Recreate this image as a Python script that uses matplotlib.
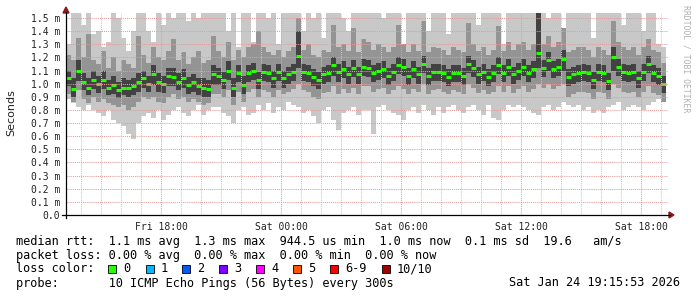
import numpy as np
import matplotlib
matplotlib.use('Agg')
import matplotlib.pyplot as plt
from matplotlib.patches import Rectangle, Polygon
from matplotlib.lines import Line2D

W, H = 697, 297

# smokeping round-trip data, 15 min steps from Fri 13:15, values in 0.01 ms
median = [104, 96, 110, 101, 97, 103, 100, 103, 97, 99, 95, 97, 97, 98, 101, 104, 100, 107, 101, 100,
          106, 105, 101, 104, 99, 101, 98, 97, 96, 107,
          106, 103, 110, 97, 108, 99, 108, 110, 103, 109, 108, 104, 109, 104, 107, 109, 121, 109, 108, 105,
          103, 107, 108, 114, 109, 111, 107, 112, 107, 113,
          112, 108, 110, 111, 106, 109, 114, 113, 106, 111, 107, 115, 106, 109, 109, 108, 105, 108, 108, 106,
          115, 112, 107, 109, 105, 108, 114, 108, 113, 107,
          110, 113, 108, 111, 123, 112, 118, 111, 113, 119, 105, 107, 108, 109, 108, 103, 109, 108, 102, 120,
          113, 109, 108, 109, 104, 109, 115, 108, 106, 100]
ping_max = [130, 154, 154, 145, 154, 138, 140, 128, 132, 154, 150, 135, 125, 140, 154, 154, 140, 132, 154, 145,
            154, 150, 154, 154, 148, 154, 150, 154, 154, 154,
            154, 154, 140, 154, 128, 154, 154, 132, 154, 154, 150, 154, 130, 154, 154, 154, 154, 140, 154, 150,
            154, 135, 154, 154, 154, 150, 140, 154, 154, 154,
            154, 154, 154, 150, 154, 154, 154, 130, 154, 154, 154, 154, 140, 154, 154, 154, 138, 154, 154, 154,
            154, 154, 145, 154, 154, 154, 154, 130, 154, 154,
            154, 154, 154, 154, 154, 154, 150, 154, 154, 140, 154, 154, 154, 154, 154, 135, 154, 154, 154, 154,
            154, 145, 154, 154, 154, 140, 154, 154, 130, 128]
ping_min = [88, 85, 82, 80, 84, 80, 78, 75, 80, 72, 70, 68, 62, 58, 70, 75, 78, 74, 80, 72,
            76, 80, 82, 78, 75, 80, 84, 76, 80, 82,
            82, 78, 75, 70, 80, 82, 76, 78, 84, 80, 85, 78, 82, 80, 86, 84, 82, 78, 80, 75,
            70, 80, 82, 72, 65, 78, 80, 82, 76, 80,
            80, 62, 82, 84, 80, 78, 76, 72, 80, 82, 78, 84, 80, 76, 82, 78, 82, 84, 80, 78,
            82, 84, 80, 76, 84, 74, 72, 80, 84, 82,
            84, 82, 80, 78, 76, 82, 84, 80, 82, 86, 84, 82, 84, 80, 82, 78, 80, 78, 82, 84,
            86, 80, 82, 84, 82, 80, 84, 86, 88, 90]
mid_hi = [122, 118, 135, 120, 138, 118, 115, 125, 112, 120, 110, 118, 115, 112, 136, 122, 116, 128, 120, 118,
          125, 134, 118, 124, 115, 120, 125, 116, 118, 136,
          125, 120, 132, 118, 126, 120, 128, 130, 140, 128, 124, 122, 126, 120, 125, 128, 150, 126, 130, 122,
          120, 126, 124, 145, 128, 130, 125, 142, 124, 134,
          132, 126, 130, 128, 124, 128, 145, 130, 124, 130, 125, 148, 124, 128, 127, 126, 122, 128, 126, 124,
          146, 130, 125, 128, 122, 126, 144, 125, 132, 126,
          130, 132, 126, 130, 154, 130, 136, 128, 132, 142, 124, 126, 128, 128, 126, 120, 128, 126, 122, 148,
          132, 128, 126, 128, 122, 128, 134, 126, 124, 116]
mid_lo = [92, 86, 95, 88, 85, 90, 86, 88, 85, 84, 82, 84, 80, 82, 86, 90, 88, 90, 86, 85,
          90, 92, 88, 90, 86, 88, 86, 84, 85, 92,
          92, 90, 95, 84, 94, 86, 94, 96, 90, 95, 94, 90, 95, 92, 94, 96, 100, 95, 94, 90,
          88, 93, 94, 98, 92, 96, 93, 97, 92, 98,
          98, 94, 96, 97, 92, 95, 98, 96, 92, 96, 94, 100, 92, 95, 96, 94, 92, 95, 94, 92,
          100, 97, 93, 95, 92, 94, 98, 94, 98, 93,
          96, 98, 94, 96, 100, 97, 100, 96, 98, 100, 90, 92, 94, 94, 93, 88, 94, 93, 88, 100,
          97, 94, 93, 94, 90, 94, 98, 93, 91, 86]
core_hi = [110, 104, 118, 108, 104, 110, 106, 110, 103, 106, 101, 104, 103, 104, 108, 110, 106, 114, 108, 106,
           112, 112, 108, 111, 105, 107, 104, 104, 103, 114,
           112, 109, 117, 104, 114, 106, 114, 116, 109, 115, 114, 110, 115, 110, 113, 115, 140, 115, 114, 111,
           109, 113, 114, 120, 115, 117, 113, 118, 113, 119,
           118, 114, 116, 117, 112, 115, 120, 119, 112, 117, 113, 121, 112, 115, 115, 114, 111, 114, 114, 112,
           121, 118, 113, 115, 111, 114, 120, 114, 119, 113,
           116, 119, 114, 117, 154, 118, 124, 117, 119, 126, 111, 113, 114, 115, 114, 109, 115, 114, 108, 128,
           119, 115, 114, 115, 110, 115, 121, 114, 112, 106]
core_lo = [98, 90, 102, 95, 91, 96, 93, 96, 91, 92, 89, 91, 90, 91, 94, 97, 94, 99, 94, 93,
           98, 98, 95, 97, 92, 94, 91, 90, 90, 99,
           99, 96, 103, 90, 101, 92, 101, 103, 96, 102, 101, 97, 102, 97, 100, 102, 112, 102, 101, 98,
           96, 100, 101, 106, 101, 104, 100, 105, 100, 106,
           105, 101, 103, 104, 99, 102, 107, 106, 99, 104, 100, 108, 99, 102, 102, 101, 98, 101, 101, 99,
           108, 105, 100, 102, 98, 101, 107, 101, 106, 100,
           103, 106, 101, 104, 112, 105, 110, 104, 106, 110, 98, 100, 101, 102, 101, 96, 102, 101, 95, 110,
           106, 102, 101, 102, 97, 102, 108, 101, 99, 93]

tick_hours = [18, 24, 30, 36, 42]
tick_labels = ['Fri 18:00', 'Sat 00:00', 'Sat 06:00', 'Sat 12:00', 'Sat 18:00']
loss_labels = ['0', '1', '2', '3', '4', '5', '6-9', '10/10']
loss_colors = ['#26ff00', '#00b8ff', '#0059ff', '#7e00ff', '#ff00ff', '#ff5500', '#ff0000', '#a10000']

step = 0.25
t = 13.25 + step * np.arange(len(median))


def ms(a):
    return np.array(a) / 100.0


def fx(x):
    return x / W


def fy(y):
    return 1 - y / H


fig = plt.figure(figsize=(W / 100, H / 100), dpi=100)
fig.patch.set_facecolor('white')
ax = fig.add_axes([fx(66), fy(215), 602 / W, 202 / H])
ax.set_facecolor('white')

# smoke bands, outer to inner
for lo, hi, col in [(ping_min, ping_max, '#c8c8c8'),
                    (mid_lo, mid_hi, '#949494'),
                    (core_lo, core_hi, '#424242')]:
    ax.bar(t, ms(hi) - ms(lo), bottom=ms(lo), width=step, align='edge',
           color=col, linewidth=0, zorder=2)

ax.hlines(ms(median), t, t + step, colors='#26ff00', linewidth=2.2, zorder=4)

ax.set_xlim(13.25, 43.35)
ax.set_ylim(0, 1.538)

# grid on top of the smoke, rrdtool style
dots = (0, (1, 1))
for h in range(14, 44):
    if h not in tick_hours:
        ax.axvline(h, color='#c8c8c8', lw=0.75, ls=dots, zorder=5)
for h in tick_hours:
    ax.axvline(h, color='#e89a9a', lw=0.75, ls=dots, zorder=5)
for v in np.arange(0.1, 1.55, 0.1):
    ax.axhline(v, color='#e89a9a', lw=0.75, ls=dots, zorder=5)

for s in ax.spines.values():
    s.set_visible(False)

ax.set_xticks(tick_hours)
ax.set_xticklabels(tick_labels)
yt = np.round(np.arange(0, 1.51, 0.1), 1)
ax.set_yticks(yt)
ax.set_yticklabels(['0.0'] + ['%.1f m' % v for v in yt[1:]])
ax.tick_params(length=0, labelsize=7, labelcolor='#222222')
ax.tick_params(axis='x', pad=5)
ax.tick_params(axis='y', pad=4)
for lab in ax.get_xticklabels() + ax.get_yticklabels():
    lab.set_family('DejaVu Sans Mono')

# axis lines with arrows
fig.add_artist(Line2D([fx(62), fx(670)], [fy(215), fy(215)], color='black', lw=0.9))
fig.add_artist(Line2D([fx(66), fx(66)], [fy(218), fy(12)], color='black', lw=0.9))
fig.add_artist(Polygon([(fx(669), fy(212)), (fx(674), fy(215)), (fx(669), fy(218))],
                       closed=True, color='#8b1a1a'))
fig.add_artist(Polygon([(fx(63), fy(13)), (fx(66), fy(7)), (fx(69), fy(13))],
                       closed=True, color='#8b1a1a'))

fig.text(fx(11), fy(113), 'Seconds', rotation=90, ha='center', va='center',
         fontsize=8, family='DejaVu Sans', color='#222222')
fig.text(fx(686), fy(59), 'RRDTOOL / TOBI OETIKER', rotation=270, ha='center', va='center',
         fontsize=5.9, family='DejaVu Sans Mono', color='#b0b0b0')

mono = dict(family='DejaVu Sans Mono', fontsize=8.6, color='black', va='center', ha='left')
fig.text(fx(16), fy(241),
         'median rtt:  1.1 ms avg  1.3 ms max  944.5 us min  1.0 ms now  0.1 ms sd  19.6   am/s', **mono)
fig.text(fx(16), fy(255), 'packet loss: 0.00 % avg  0.00 % max  0.00 % min  0.00 % now', **mono)
fig.text(fx(16), fy(269), 'loss color:', **mono)
fig.text(fx(16), fy(283), 'probe:       10 ICMP Echo Pings (56 Bytes) every 300s', **mono)
fig.text(fx(680), fy(283), 'Sat Jan 24 19:15:53 2026',
         **{**mono, 'ha': 'right'})

box_x = [108, 146, 182, 219, 256, 293, 330, 382]
for bx, lab, col in zip(box_x, loss_labels, loss_colors):
    fig.add_artist(Rectangle((fx(bx), fy(273)), 8 / W, 8 / H, facecolor=col,
                             edgecolor='black', lw=0.6))
    fig.text(fx(bx + 15), fy(269), lab, **mono)

fig.savefig('out.png', dpi=100)
